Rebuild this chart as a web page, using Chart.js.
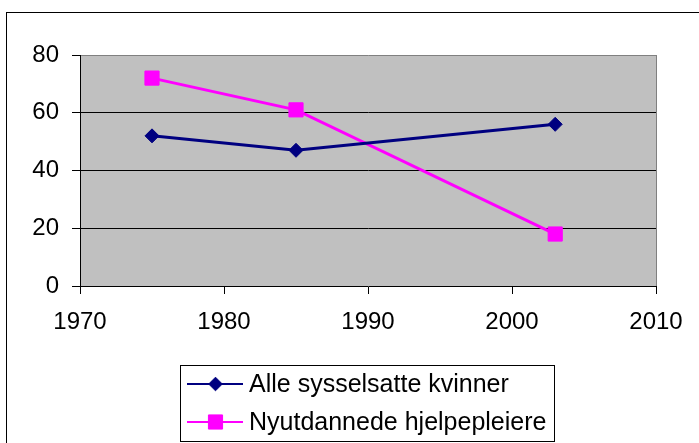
<!DOCTYPE html>
<html>
<head>
<meta charset="utf-8">
<script src="https://cdn.jsdelivr.net/npm/chart.js@4/dist/chart.umd.min.js"></script>
<style>
  html, body { margin: 0; padding: 0; background: #fff; overflow: hidden; }
</style>
</head>
<body>
<canvas id="chart" width="699" height="443"></canvas>
<script>
// data
var years = [1975, 1985, 2003];
var alleSysselsatte = [52, 47, 56];
var nyutdannede = [72, 61, 18];
var seriesNames = ["Alle sysselsatte kvinner", "Nyutdannede hjelpepleiere"];
var xRange = [1970, 2010];
var yRange = [0, 80];

var FONT = "'Liberation Sans', Arial, sans-serif";

function points(vals) {
	return years.map(function(y, i) { return { x: y, y: vals[i] }; });
}

// gray plot area + outer frame
var backdrop = {
	id: 'backdrop',
	beforeDraw: function(chart) {
		var c = chart.ctx, a = chart.chartArea;
		c.save();
		c.strokeStyle = '#000';
		c.lineWidth = 1;
		c.strokeRect(6.5, 12.5, 900, 900);
		c.fillStyle = '#C0C0C0';
		c.fillRect(a.left, a.top, a.right - a.left, a.bottom - a.top);
		c.restore();
	}
};

// legend box stacked under the plot, line + marker per series
var boxLegend = {
	id: 'boxLegend',
	afterDraw: function(chart) {
		var c = chart.ctx;
		var rows = [384, 422];
		c.save();
		c.strokeStyle = '#000';
		c.lineWidth = 1;
		c.strokeRect(180.5, 365.5, 374, 76);
		c.font = '25px ' + FONT;
		c.textBaseline = 'middle';
		c.textAlign = 'left';
		chart.data.datasets.forEach(function(ds, i) {
			var y = rows[i];
			c.strokeStyle = ds.borderColor;
			c.lineWidth = 2;
			c.beginPath();
			c.moveTo(187, y);
			c.lineTo(243, y);
			c.stroke();
			c.fillStyle = ds.backgroundColor;
			c.strokeStyle = ds.borderColor;
			c.lineWidth = 1;
			Chart.helpers.drawPoint(c, { pointStyle: ds.pointStyle, radius: ds.pointStyle === 'rect' ? 10 : 6.8, rotation: 0, borderWidth: 1 }, 215.5, y);
			c.fillStyle = '#000';
			c.fillText(ds.label, 249, y + 1);
		});
		c.restore();
	}
};

new Chart(document.getElementById('chart'), {
	type: 'line',
	data: {
		datasets: [{
			label: seriesNames[0],
			data: points(alleSysselsatte),
			borderColor: '#000080',
			backgroundColor: '#000080',
			borderWidth: 3,
			pointStyle: 'rectRot',
			pointRadius: 7,
			pointBorderWidth: 1,
			tension: 0
		}, {
			label: seriesNames[1],
			data: points(nyutdannede),
			borderColor: '#FF00FF',
			backgroundColor: '#FF00FF',
			borderWidth: 3,
			pointStyle: 'rect',
			pointRadius: 10,
			pointBorderWidth: 1,
			tension: 0
		}]
	},
	options: {
		responsive: false,
		animation: false,
		layout: { padding: { left: 0, top: 55, right: 43, bottom: 0 } },
		plugins: {
			legend: { display: false },
			tooltip: { enabled: false }
		},
		scales: {
			x: {
				type: 'linear',
				min: xRange[0],
				max: xRange[1],
				afterFit: function(s) { s.height = 157; },
				ticks: {
					stepSize: 10,
					padding: 14,
					color: '#000',
					font: { family: FONT, size: 24 },
					maxRotation: 0,
					callback: function(v) { return String(v); }
				},
				grid: {
					tickLength: 8,
					tickColor: '#000',
					color: function(ctx) { return ctx.tick && ctx.tick.value === xRange[1] ? '#808080' : 'rgba(0,0,0,0)'; }
				},
				border: { color: '#000', width: 1 }
			},
			y: {
				min: yRange[0],
				max: yRange[1],
				afterFit: function(s) { s.width = 80; },
				ticks: {
					stepSize: 20,
					padding: 13,
					color: '#000',
					font: { family: FONT, size: 24 }
				},
				grid: {
					tickLength: 8,
					tickColor: '#000',
					color: function(ctx) {
						if (!ctx.tick) return '#000';
						if (ctx.tick.value === yRange[1]) return '#808080';
						if (ctx.tick.value === yRange[0]) return 'rgba(0,0,0,0)';
						return '#000';
					}
				},
				border: { color: '#000', width: 1 }
			}
		}
	},
	plugins: [backdrop, boxLegend]
});
</script>
</body>
</html>
